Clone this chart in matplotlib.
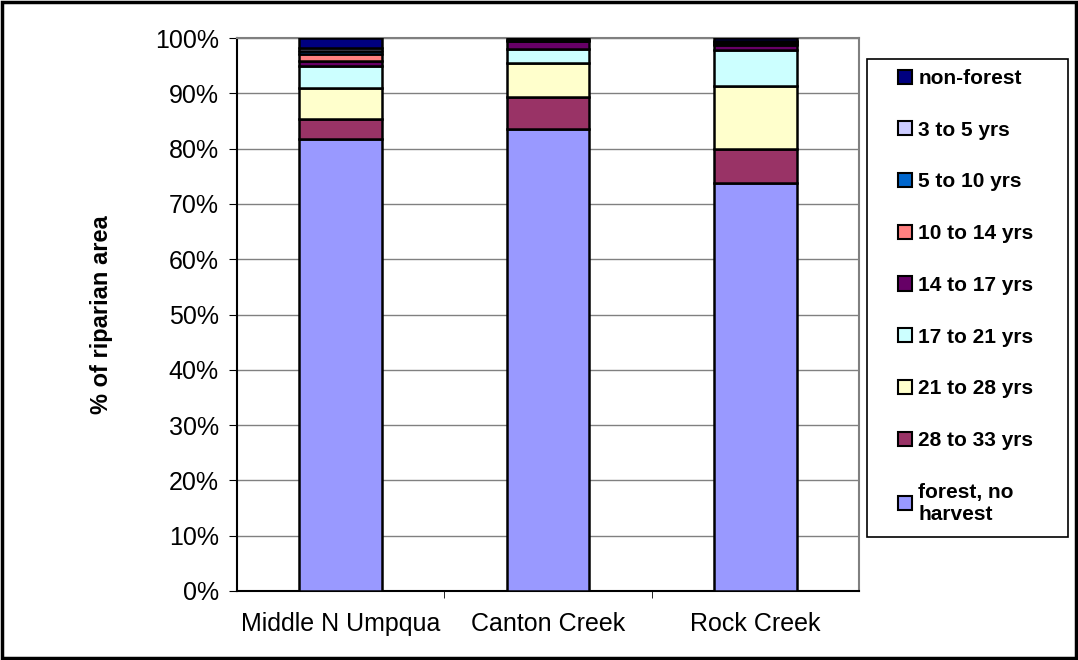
import matplotlib
matplotlib.use("Agg")
import matplotlib.pyplot as plt
from matplotlib.patches import Rectangle, Patch
import numpy as np

plt.rcParams['font.family'] = ['Liberation Sans', 'DejaVu Sans']

sites = ["Middle N Umpqua", "Canton Creek", "Rock Creek"]

# percent of riparian area, bottom to top
forest_no_harvest = [81.7, 83.5, 73.8]
yrs_28_33 = [3.6, 5.9, 6.2]
yrs_21_28 = [5.6, 6.1, 11.3]
yrs_17_21 = [4.1, 2.6, 6.5]
yrs_14_17 = [0.8, 1.4, 0.9]
yrs_10_14 = [1.3, 0.0, 0.2]
yrs_5_10 = [0.6, 0.0, 0.3]
yrs_3_5 = [0.5, 0.2, 0.2]
non_forest = [1.8, 0.3, 0.6]

series = [
    ("forest, no\nharvest", forest_no_harvest, "#9999FF"),
    ("28 to 33 yrs", yrs_28_33, "#993366"),
    ("21 to 28 yrs", yrs_21_28, "#FFFFCC"),
    ("17 to 21 yrs", yrs_17_21, "#CCFFFF"),
    ("14 to 17 yrs", yrs_14_17, "#660066"),
    ("10 to 14 yrs", yrs_10_14, "#FF8080"),
    ("5 to 10 yrs", yrs_5_10, "#0066CC"),
    ("3 to 5 yrs", yrs_3_5, "#CCCCFF"),
    ("non-forest", non_forest, "#000080"),
]

W, H = 1078, 660
fig = plt.figure(figsize=(W / 100, H / 100), dpi=100)
ax = fig.add_axes([237 / W, 1 - 591 / H, (859 - 237) / W, (591 - 38) / H])

x = np.arange(len(sites))
bottom = np.zeros(len(sites))
for label, vals, color in series:
    vals = np.array(vals)
    ax.bar(x, vals, width=0.4, bottom=bottom, color=color,
           edgecolor="black", linewidth=1.8, zorder=3)
    bottom += vals

ax.set_xlim(-0.5, 2.5)
ax.set_ylim(0, 100)
ax.set_yticks(np.arange(0, 101, 10))
ax.set_yticklabels([f"{v}%" for v in range(0, 101, 10)], fontsize=18)
ax.yaxis.grid(True, color="#808080", linewidth=1, zorder=0)
ax.set_xticks(x)
ax.set_xticklabels(sites, fontsize=18)
ax.tick_params(axis="x", length=0, pad=15)
ax.set_xticks([0.5, 1.5], minor=True)
ax.tick_params(axis="x", which="minor", length=5, color="black")
ax.tick_params(axis="y", length=6, color="black", pad=7)
for s in ax.spines.values():
    s.set_color("#808080")
    s.set_linewidth(1.5)
ax.spines["left"].set_color("black")
ax.spines["bottom"].set_color("black")

ax.set_ylabel("% of riparian area", fontsize=17, fontweight="bold", labelpad=30)

# legend box drawn separately, entries placed inside it
fig.patches.append(Rectangle((867 / W, 1 - 537 / H), (1068 - 867) / W, (537 - 59) / H,
                             transform=fig.transFigure, fill=False,
                             edgecolor="black", linewidth=1.2))
handles = [Patch(facecolor=c, edgecolor="black", linewidth=1.5, label=l)
           for l, _, c in series[::-1]]
leg = fig.legend(handles=handles, loc="upper left",
                 bbox_to_anchor=(898 / W, 1 - 69 / H),
                 prop={"weight": "bold", "size": 15},
                 labelspacing=1.57, handlelength=0.67, handleheight=0.67,
                 handletextpad=0.3, borderpad=0, frameon=False,
                 borderaxespad=0)

fig.patches.append(Rectangle((0.002, 0.003), 0.996, 0.994, transform=fig.transFigure,
                             fill=False, edgecolor="black", linewidth=2.5))

fig.savefig("out.png", dpi=100)
